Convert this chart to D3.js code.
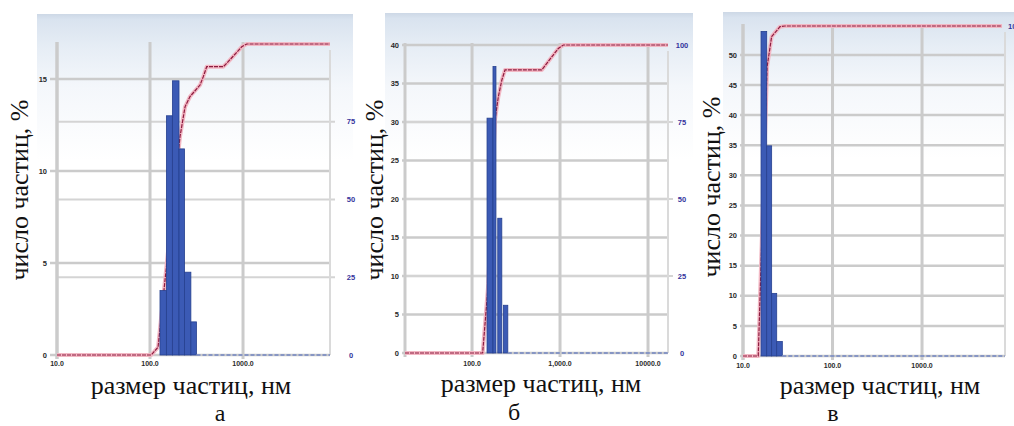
<!DOCTYPE html>
<html><head><meta charset="utf-8">
<script src="https://cdn.jsdelivr.net/npm/d3@7"></script>
<style>body{margin:0;background:#fff}svg{display:block}
.serif{font-family:"Liberation Serif","Times New Roman",serif}
.tick{font-family:"Liberation Sans","DejaVu Sans",Arial,sans-serif}</style>
</head><body><svg id="c" width="1014" height="426"></svg>
<script>
// ---------- data: panel а ----------
const aBinStart = [128, 150, 174, 205, 235, 275];
const aBinEnd = [150, 174, 205, 235, 275, 316];
const aPercent = [3.5, 13.0, 14.9, 11.2, 4.5, 1.8];
const aCumSize = [10, 103, 122, 210, 238, 269, 345, 374, 407, 614, 668, 969, 1097, 8610];
const aCumPercent = [0, 0, 2.5, 70.2, 79.8, 83.1, 86.8, 89.5, 92.7, 92.7, 93.8, 99.1, 100, 100];
const aSizeDomain = [10, 8610];
const aPercentMax = 16.9;
const aLeftTicks = [0, 5, 10, 15];
const aRightTicks = [0, 25, 50, 75];
const aSizeTicks = [10, 100, 1000];
const aSizeTickLabels = ["10.0", "100.0", "1000.0"];

// ---------- data: panel б ----------
const bBinStart = [148, 173, 196, 227];
const bBinEnd = [173, 187, 218, 255];
const bPercent = [30.5, 37.2, 17.5, 6.2];
const bCumSize = [17.3, 132, 153, 182, 199, 218, 237, 620, 957, 1090, 16870];
const bCumPercent = [0, 0, 22.5, 75.6, 83.2, 88.6, 91.9, 91.9, 98.9, 100, 100];
const bSizeDomain = [17.3, 16870];
const bPercentMax = 40;
const bLeftTicks = [0, 5, 10, 15, 20, 25, 30, 35, 40];
const bRightTicks = [0, 25, 50, 75, 100];
const bSizeTicks = [100, 1000, 10000];
const bSizeTickLabels = ["100.0", "1,000.0", "10000.0"];

// ---------- data: panel в ----------
const cBinStart = [15.9, 18.4, 20.9, 23.8];
const cBinEnd = [18.4, 20.9, 23.8, 27.5];
const cPercent = [53.9, 34.9, 10.4, 2.4];
const cCumSize = [10, 14.8, 16.0, 18.6, 20.9, 25.9, 29.4, 7830];
const cCumPercent = [0, 0, 30, 87.7, 96.8, 99.8, 100, 100];
const cSizeDomain = [10, 8450];
const cPercentMax = 54.8;
const cLeftTicks = [0, 5, 10, 15, 20, 25, 30, 35, 40, 45, 50];
const cRightTicks = [100];
const cSizeTicks = [10, 100, 1000];
const cSizeTickLabels = ["10.0", "100.0", "1000.0"];

const yTitle = "число частиц, %";
const xTitle = "размер частиц, нм";
const panelLetters = ["а", "б", "в"];

// ---------- layout ----------
const panels = [
  {bins: aBinStart.map((s,i)=>({s, e:aBinEnd[i], v:aPercent[i]})),
   cum: aCumSize.map((s,i)=>({s, v:aCumPercent[i]})),
   dom: aSizeDomain, ymax: aPercentMax, lt: aLeftTicks, rt: aRightTicks, xt: aSizeTicks, xl: aSizeTickLabels,
   bg:{x:37,y:14,w:316,h:366}, p:{l:57,r:330,t:44,b:355}, llx:47, rlx:351, ranchor:"middle", xly:364,
   ytx:28, yty:190, xtx:191, xty:394, lx:220, ly:421},
  {bins: bBinStart.map((s,i)=>({s, e:bBinEnd[i], v:bPercent[i]})),
   cum: bCumSize.map((s,i)=>({s, v:bCumPercent[i]})),
   dom: bSizeDomain, ymax: bPercentMax, lt: bLeftTicks, rt: bRightTicks, xt: bSizeTicks, xl: bSizeTickLabels,
   bg:{x:385,y:13,w:308,h:367}, p:{l:405,r:668,t:45,b:353}, llx:399, rlx:682, ranchor:"middle", xly:364,
   ytx:383, yty:190, xtx:541, xty:392, lx:514, ly:420},
  {bins: cBinStart.map((s,i)=>({s, e:cBinEnd[i], v:cPercent[i]})),
   cum: cCumSize.map((s,i)=>({s, v:cCumPercent[i]})),
   dom: cSizeDomain, ymax: cPercentMax, lt: cLeftTicks, rt: cRightTicks, xt: cSizeTicks, xl: cSizeTickLabels,
   bg:{x:723,y:12,w:291,h:368}, p:{l:743,r:1005,t:26,b:356}, llx:737, rlx:1008, ranchor:"start", xly:366,
   ytx:720, yty:187, xtx:880, xty:394, lx:833, ly:421}
];

const svg = d3.select("#c");
const defs = svg.append("defs");
const grad = defs.append("linearGradient").attr("id","bgGrad").attr("x1",0).attr("y1",0).attr("x2",0).attr("y2",1);
[[0,"#cdd8e6"],[0.015,"#d9e3ef"],[0.09,"#e6edf5"],[0.2,"#f4f7fb"],[0.4,"#ffffff"]].forEach(([o,c])=>
  grad.append("stop").attr("offset",o).attr("stop-color",c));

const gridColor = "#cbcbcb";

panels.forEach((P, idx) => {
  const g = svg.append("g");
  const x = d3.scaleLog().domain(P.dom).range([P.p.l, P.p.r]);
  const y = d3.scaleLinear().domain([0, P.ymax]).range([P.p.b, P.p.t]);
  const y2 = d3.scaleLinear().domain([0, 100]).range([P.p.b, P.p.t]);

  g.append("rect").attr("x",P.bg.x).attr("y",P.bg.y).attr("width",P.bg.w).attr("height",P.bg.h).attr("fill","url(#bgGrad)");

  g.selectAll(".hl").data(P.lt).join("line")
    .attr("x1", P.llx + 3).attr("x2", P.p.r)
    .attr("y1", d=>y(d)).attr("y2", d=>y(d))
    .attr("stroke", gridColor).attr("stroke-width", 2.5);
  g.selectAll(".hr").data(P.rt.filter(d=>d>0 && d<100)).join("line")
    .attr("x1", P.p.l).attr("x2", P.p.r + 5)
    .attr("y1", d=>y2(d)).attr("y2", d=>y2(d))
    .attr("stroke", "#d4d4d4").attr("stroke-width", 1.8);
  const vx = [P.p.l, ...P.xt.map(d=>x(d))];
  g.selectAll(".vg").data(vx).join("line")
    .attr("x1", d=>d).attr("x2", d=>d)
    .attr("y1", P.p.t - 2).attr("y2", P.p.b + 4)
    .attr("stroke", gridColor).attr("stroke-width", 3);
  g.append("line").attr("x1",P.p.r).attr("x2",P.p.r).attr("y1",P.p.t+6).attr("y2",P.p.b)
    .attr("stroke","#dadada").attr("stroke-width",2);

  const line = d3.line().x(d=>x(d.s)).y(d=>y2(d.v));
  g.append("path").datum(P.cum).attr("d", line).attr("fill","none")
    .attr("stroke","#f2b8c4").attr("stroke-width",4).attr("stroke-linejoin","round");
  g.append("path").datum(P.cum).attr("d", line).attr("fill","none")
    .attr("stroke","#8e1c40").attr("stroke-width",1.2).attr("stroke-dasharray","4,1");

  g.selectAll(".bar").data(P.bins).join("rect")
    .attr("x", d=>x(d.s)).attr("width", d=>x(d.e)-x(d.s))
    .attr("y", d=>y(d.v)).attr("height", d=>y(0)-y(d.v))
    .attr("fill","#3b5ab5").attr("stroke","#26408f").attr("stroke-width",0.8);

  const lastEnd = d3.max(P.bins, d=>d.e);
  g.append("line").attr("x1", x(lastEnd)).attr("x2", P.p.r)
    .attr("y1", y(0)).attr("y2", y(0))
    .attr("stroke","#8796c4").attr("stroke-width",2).attr("stroke-dasharray","4,2");

  g.selectAll(".ll").data(P.lt).join("text").attr("class","tick")
    .attr("x", P.llx).attr("y", d=>y(d)).attr("dy","0.35em")
    .attr("text-anchor","end")
    .attr("font-size",7.5).attr("font-weight","bold").attr("fill","#2a2a2a").text(d=>d);
  g.selectAll(".rl").data(P.rt).join("text").attr("class","tick")
    .attr("x", P.rlx).attr("y", d=>y2(d)).attr("dy","0.35em")
    .attr("text-anchor",P.ranchor)
    .attr("font-size",7.5).attr("font-weight","bold").attr("fill","#34349c").text(d=>d);
  g.selectAll(".xl").data(P.xt).join("text").attr("class","tick")
    .attr("x", d=>x(d)).attr("y", P.xly).attr("dy","0.35em")
    .attr("text-anchor","middle")
    .attr("font-size",7).attr("font-weight","bold").attr("fill","#2a2a2a").text((d,i)=>P.xl[i]);

  g.append("text").attr("class","serif").attr("transform",`translate(${P.ytx},${P.yty}) rotate(-90)`)
    .attr("text-anchor","middle").attr("font-size",26).attr("fill","#111").text(yTitle);
  g.append("text").attr("class","serif").attr("x",P.xtx).attr("y",P.xty)
    .attr("text-anchor","middle").attr("font-size",26).attr("fill","#111").text(xTitle);
  g.append("text").attr("class","serif").attr("x",P.lx).attr("y",P.ly)
    .attr("text-anchor","middle").attr("font-size",24).attr("fill","#111").text(panelLetters[idx]);
});
</script>
</body></html>
